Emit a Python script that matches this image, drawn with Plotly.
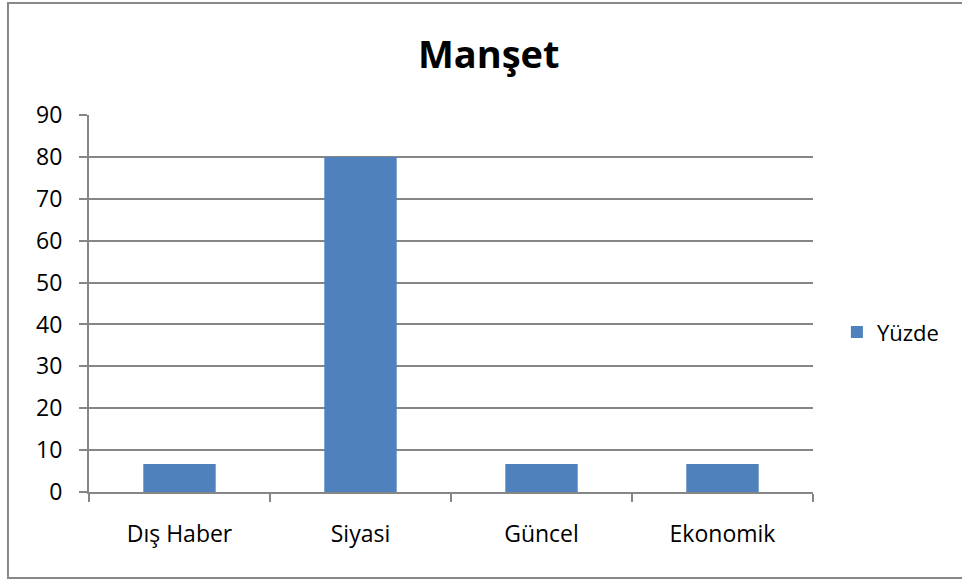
import plotly.graph_objects as go

categories = ["Dış Haber", "Siyasi", "Güncel", "Ekonomik"]
values = [6.67, 80, 6.67, 6.67]
series_name = "Yüzde"
title_text = "Manşet"
y_ticks = [0, 10, 20, 30, 40, 50, 60, 70, 80, 90]

GRID = "#868686"
FONT = "Open Sans"

fig = go.Figure()
fig.add_trace(go.Bar(
    x=categories, y=values, name=series_name,
    marker=dict(color="#4F81BD", line=dict(width=0)),
    showlegend=True,
))

fig.update_layout(
    width=962, height=581,
    margin=dict(l=89, r=149, t=115, b=89),
    paper_bgcolor="white", plot_bgcolor="white",
    font=dict(family=FONT, size=23, color="black"),
    bargap=0.6,
    title=dict(text="<b>" + title_text + "</b>", x=0.508, xref="container",
               y=0.905, yref="container", xanchor="center", yanchor="middle",
               font=dict(family=FONT, size=38, color="black")),
    showlegend=True,
    legend=dict(x=1.033, xanchor="left", y=0.424, yanchor="middle",
                font=dict(family=FONT, size=22), itemwidth=30,
                bgcolor="rgba(0,0,0,0)", borderwidth=0),
    xaxis=dict(
        type="category", showgrid=False, showline=True, linecolor=GRID, linewidth=2,
        ticks="outside", ticklen=8, tickwidth=2, tickcolor=GRID, tickson="boundaries",
        ticklabelstandoff=20, zeroline=False,
    ),
    yaxis=dict(
        range=[0, 90], tickvals=y_ticks, showgrid=True, gridcolor=GRID, gridwidth=2,
        showline=True, linecolor=GRID, linewidth=2, ticks="outside", ticklen=8,
        tickwidth=2, tickcolor=GRID, zeroline=False, ticklabelstandoff=12,
    ),
    shapes=[dict(type="rect", xref="paper", yref="paper",
                 x0=-0.1119, x1=1.21, y0=-0.228, y1=1.297,
                 line=dict(color="#888888", width=2), layer="below")],
)

fig.write_html("out.html", config={"displayModeBar": False},
               post_script="document.body.style.margin='0';")
